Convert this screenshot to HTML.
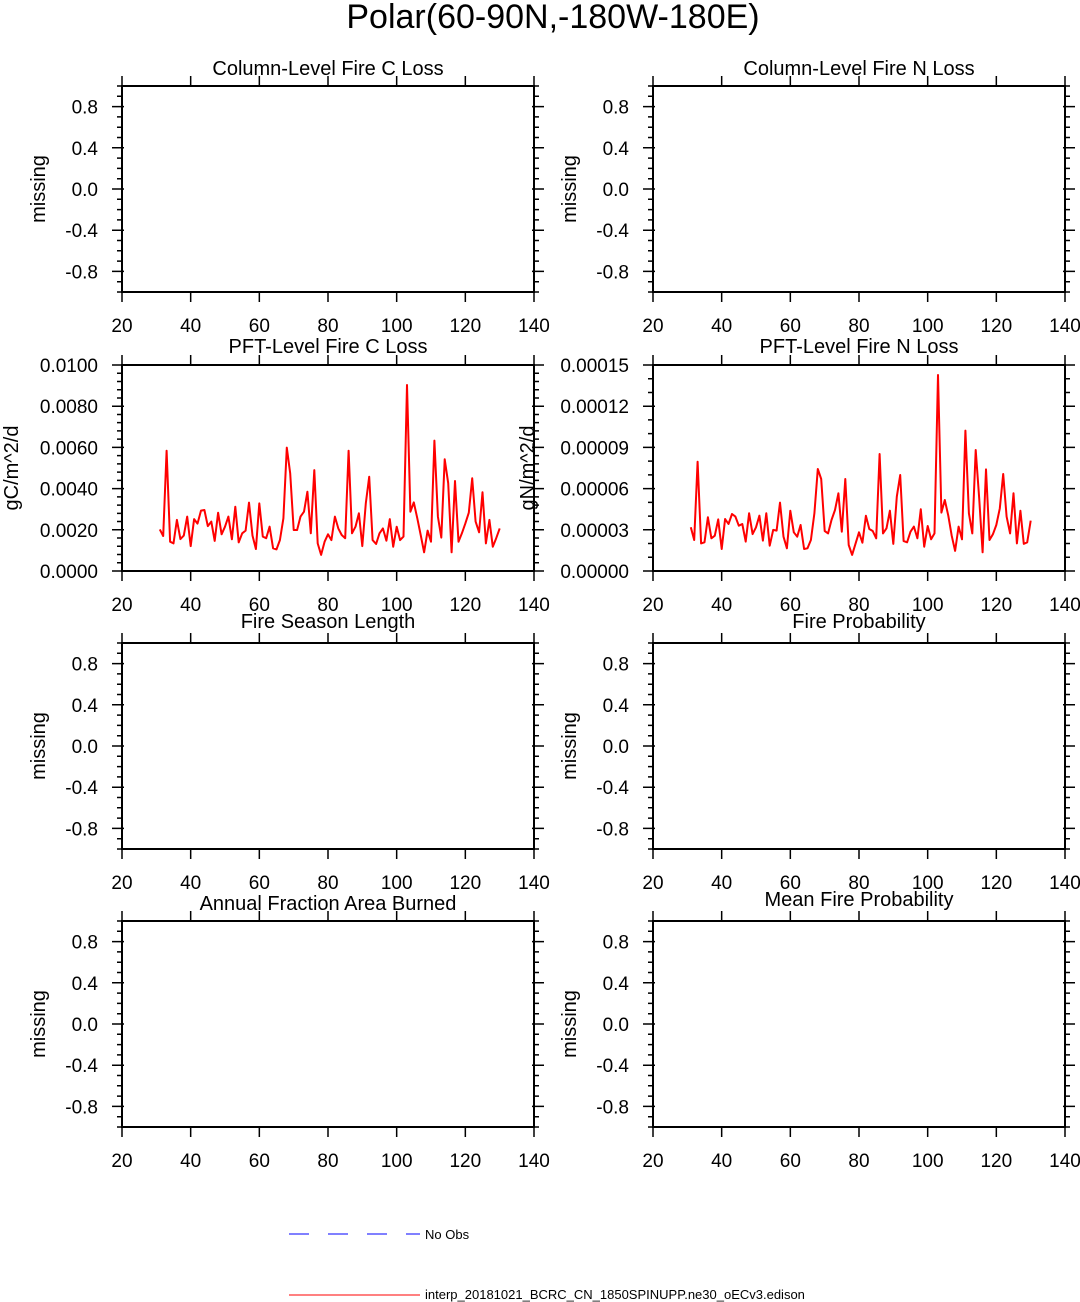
<!DOCTYPE html>
<html><head><meta charset="utf-8"><style>
html,body{margin:0;padding:0;background:#fff;}
svg{display:block;font-family:"Liberation Sans",Arial,sans-serif;}
</style></head><body>
<svg id="fig" width="1080" height="1302" viewBox="0 0 1080 1302" xmlns="http://www.w3.org/2000/svg">
<text x="553" y="28" font-size="34" text-anchor="middle">Polar(60-90N,-180W-180E)</text>
<g>
<line x1="289" y1="1234" x2="420" y2="1234" stroke="#0000ff" stroke-width="1" stroke-dasharray="20,19"/>
<text x="425" y="1239" font-size="13">No Obs</text>
<line x1="289" y1="1295" x2="420" y2="1295" stroke="#ff0000" stroke-width="1"/>
<text x="425" y="1299" font-size="13">interp_20181021_BCRC_CN_1850SPINUPP.ne30_oECv3.edison</text>
</g>
</svg>
<script>
const years = [];
for (let y = 31; y <= 130; y++) years.push(y);
const fireCLoss = [0.00202,0.0017,0.00584,0.00142,0.00134,0.00248,0.00155,0.00172,0.00264,0.00121,
0.00252,0.0023,0.00293,0.00296,0.00218,0.0024,0.00146,0.00283,0.00178,0.00215,
0.00264,0.00154,0.00312,0.00139,0.00183,0.00196,0.00332,0.00172,0.00107,0.00328,
0.00167,0.00159,0.00215,0.0011,0.00105,0.0015,0.00256,0.00599,0.00474,0.00199,
0.00199,0.00264,0.00288,0.00385,0.00183,0.0049,0.00134,0.00078,0.00142,0.00178,
0.0015,0.00264,0.00207,0.00175,0.00159,0.00584,0.00183,0.00215,0.0028,0.00121,
0.00328,0.00458,0.0015,0.00131,0.00183,0.00207,0.00147,0.00252,0.00118,0.00215,
0.0015,0.00167,0.00903,0.00288,0.00333,0.00256,0.00175,0.00091,0.00196,0.00142,
0.00633,0.00264,0.00162,0.00542,0.00426,0.00091,0.00437,0.00142,0.00183,0.0023,
0.00283,0.0045,0.0024,0.00188,0.00382,0.00134,0.00248,0.00118,0.00159,0.00207];
const fireNLossE5 = [3.18,2.26,7.96,2.01,2.09,3.91,2.38,2.57,3.76,1.60,
3.79,3.42,4.15,3.96,3.30,3.42,2.14,4.20,2.69,3.18,
4.03,2.21,4.20,1.84,2.99,2.94,4.98,2.50,1.65,4.39,
2.82,2.50,3.35,1.60,1.65,2.26,4.20,7.43,6.70,2.91,
2.74,3.71,4.44,5.66,2.86,6.70,1.89,1.17,2.01,2.82,
2.06,4.03,3.06,2.91,2.38,8.52,2.74,3.11,4.39,1.97,
5.41,6.99,2.18,2.09,2.86,3.23,2.38,4.49,1.77,3.28,
2.31,2.74,14.27,4.25,5.17,4.03,2.57,1.46,3.23,2.31,
10.22,4.20,2.74,8.81,5.29,1.36,7.40,2.26,2.67,3.35,
4.56,7.06,3.96,2.74,5.66,2.01,4.39,1.97,2.09,3.67];
const xTicks = [20,40,60,80,100,120,140];
const missTicks = [-0.8,-0.4,0.0,0.4,0.8];
const missLabels = ["-0.8","-0.4","0.0","0.4","0.8"];
const cTicks = [0,0.002,0.004,0.006,0.008,0.01];
const cLabels = ["0.0000","0.0020","0.0040","0.0060","0.0080","0.0100"];
const nTicks = [0,3,6,9,12,15];
const nLabels = ["0.00000","0.00003","0.00006","0.00009","0.00012","0.00015"];

const NS = "http://www.w3.org/2000/svg";
const svg = document.getElementById('fig');
function mk(tag, attrs, parent) {
  const e = document.createElementNS(NS, tag);
  for (const k in attrs) e.setAttribute(k, attrs[k]);
  (parent || svg).appendChild(e);
  return e;
}
function panel(cfg) {
  const L = cfg.x, T = cfg.y, W = 412, H = 206;
  const g = mk('g', {});
  
  
  const xs = v => L + (v - 20) / 120 * W;
  const ys = v => T + H - (v - cfg.ymin) / (cfg.ymax - cfg.ymin) * H;
  const fr = mk('rect', {x: L, y: T, width: W, height: H, fill: 'none', stroke: '#000', 'stroke-width': 2}, g);
  
  
  let d = '';
  xTicks.forEach(v => { const px = xs(v); d += `M${px} ${T+H}v10M${px} ${T}v-10`; });
  cfg.yticks.forEach(v => { const py = ys(v); d += `M${L-10} ${py}h12M${L+W+10} ${py}h-12`; });
  for (let v = cfg.ymin; v <= cfg.ymax + 1e-12; v += cfg.minor) { const py = ys(v); d += `M${L-5} ${py}h5M${L+W+5} ${py}h-5`; }
  const tk = mk('path', {d: d, stroke: '#000', 'stroke-width': 1.5, fill: 'none'}, g);
  
  
  xTicks.forEach(v => {
    const t = mk('text', {x: xs(v), y: T + H + 40, 'font-size': 19, 'text-anchor': 'middle'}, g);
    t.textContent = v;
    
    
  });
  cfg.yticks.forEach((v, i) => {
    const t = mk('text', {x: L - 24 + cfg.lblShift, y: ys(v) + 7, 'font-size': 19, 'text-anchor': 'end'}, g);
    t.textContent = cfg.ylabels[i];
    
    
  });
  const ti = mk('text', {x: L + W / 2, y: cfg.ty, 'font-size': 20, 'text-anchor': 'middle'}, g);
  ti.textContent = cfg.title;
  
  
  const yt = mk('text', {x: 0, y: 0, 'font-size': 20, 'text-anchor': 'middle', transform: `translate(${cfg.ytx},${T + H / 2}) rotate(-90)`}, g);
  yt.textContent = cfg.ytitle;
  
  
  if (cfg.data) {
    const pts = cfg.data.map((v, i) => xs(years[i]).toFixed(1) + ',' + ys(v).toFixed(1)).join(' ');
    const pl = mk('polyline', {points: pts, fill: 'none', stroke: '#ff0000', 'stroke-width': 2, 'stroke-linejoin': 'round'}, g);
    
    
  }
}
const miss = {ymin: -1, ymax: 1, minor: 0.1, yticks: missTicks, ylabels: missLabels, ytitle: 'missing', lblShift: 0};
panel(Object.assign({}, miss, {name: 'panel-column-fire-c-loss', x: 122, y: 86, ty: 75, title: 'Column-Level Fire C Loss', ytx: 45}));
panel(Object.assign({}, miss, {name: 'panel-column-fire-n-loss', x: 653, y: 86, ty: 75, title: 'Column-Level Fire N Loss', ytx: 576}));
panel({name: 'panel-pft-fire-c-loss', x: 122, y: 365, ty: 353, title: 'PFT-Level Fire C Loss', ymin: 0, ymax: 0.01, minor: 0.0004, yticks: cTicks, ylabels: cLabels, ytitle: 'gC/m^2/d', ytx: 18, lblShift: 0, data: fireCLoss});
panel({name: 'panel-pft-fire-n-loss', x: 653, y: 365, ty: 353, title: 'PFT-Level Fire N Loss', ymin: 0, ymax: 15, minor: 1, yticks: nTicks, ylabels: nLabels, ytitle: 'gN/m^2/d', ytx: 534, lblShift: 0, data: fireNLossE5});
panel(Object.assign({}, miss, {name: 'panel-fire-season-length', x: 122, y: 643, ty: 628, title: 'Fire Season Length', ytx: 45}));
panel(Object.assign({}, miss, {name: 'panel-fire-probability', x: 653, y: 643, ty: 628, title: 'Fire Probability', ytx: 576}));
panel(Object.assign({}, miss, {name: 'panel-annual-fraction-area-burned', x: 122, y: 921, ty: 910, title: 'Annual Fraction Area Burned', ytx: 45}));
panel(Object.assign({}, miss, {name: 'panel-mean-fire-probability', x: 653, y: 921, ty: 906, title: 'Mean Fire Probability', ytx: 576}));
</script>
</body></html>
